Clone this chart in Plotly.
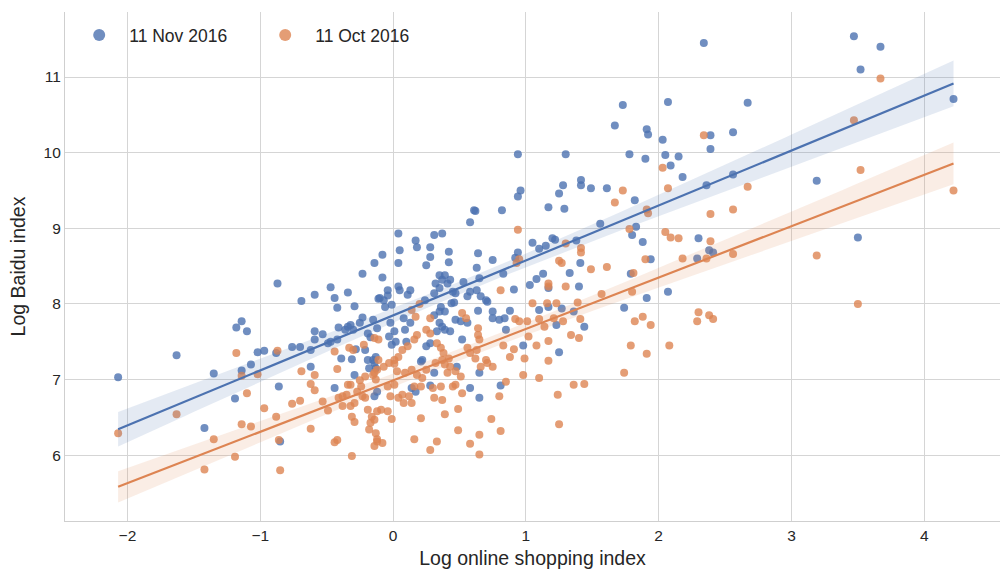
import numpy as np
import plotly.graph_objects as go

nov_x = [2.07, 1.73, 1.67, 1.91, 1.92, 2.03, 0.94, 1.30, 1.78, 2.05, 2.15, 1.90, 2.09, 2.18, 1.415, 1.415, 1.28, 1.49, 1.61, 0.96,
         0.94, 1.25, 1.82, 1.17, 1.29, 0.61, 0.62, 0.82, 0.58, 1.56, 1.83, 1.80, 1.88, 1.94, 0.04, 0.17, 0.18, 0.31, 0.37, 0.28,
         0.28, 0.42, 0.42, 0.05, 0.04, -0.08, -0.14, 0.25, 0.64, 0.63, 0.75, 0.94, 0.92, 1.05, 1.10, 1.15, 1.20, 1.22, 1.38, 1.41,
         2.34, 3.47, 3.67, 3.52, 2.67, 4.22, 2.56, 2.39, 2.39, 2.36, 2.56, 3.19, 3.50, 2.30, 2.38, 2.41, 2.29,
         -2.07, -1.63, -1.35, -1.42, -1.18, -1.14, -1.10, -1.14, -1.07, -1.02, -0.97, -1.19, -0.87, -0.86, -0.85, -0.88, -0.76, -0.70,
         -0.69, -0.59, -0.62, -0.62, -0.59, -0.59, -0.53, -0.49, -0.47, -0.47, -0.44, -0.42, -0.34, -0.29, -0.23, -0.11, -0.41, -0.36,
         -0.34, -0.32, -0.30, -0.42, -0.39, -0.31, -0.28, -0.25, -0.23, -0.21, -0.19, -0.17, -0.15, -0.12, -0.18, -0.19, -0.14, -0.29,
         -0.14, -0.44,
         -0.08, 0.04, 0.05, 0.11, 0.13, -0.04, -0.10, -0.07, -0.04, -0.06, -0.01, 0.24, 0.31, 0.35, 0.37, 0.41, 0.43, 0.39, 0.35, 0.32,
         0.45, 0.47, 0.44, 0.46, 0.53, 0.56, 0.58, 0.63, 0.65, 0.66, 0.70, 0.71, 0.83, 0.91, 1.03, 1.08, 1.13, 1.17, 1.33, 1.40,
         1.79, 2.07, 1.91, 1.74, 1.10, 1.17, 1.27, 1.36, 1.23, 1.44, 1.25, 0.98, 0.64, 0.75, 0.75, 0.80, 0.84, 0.88, 0.85, 0.56,
         0.52, 0.65, 0.48, 0.58, 0.65, 0.81, 0.31, 0.28, 0.21, 0.08, 0.13, 0.09, 0.10, -0.02, 0.01, -0.03, 0.02, -0.01, -0.13, -0.15,
         -0.13, -0.12, 0.14, 0.17, 0.22, 0.31, 0.35, 0.36, 0.39, 0.35, 0.37, 0.39, 0.43, 0.33, 0.47, 0.51, 0.28, 0.25]
nov_y = [10.67, 10.63, 10.36, 10.31, 10.24, 10.17, 9.98, 9.98, 9.98, 9.97, 9.95, 9.92, 9.83, 9.68, 9.64, 9.57, 9.57, 9.53, 9.53, 9.50,
         9.42, 9.46, 9.37, 9.28, 9.26, 9.24, 9.23, 9.24, 9.08, 9.06, 9.02, 8.91, 8.82, 8.59, 8.93, 8.84, 8.75, 8.91, 8.93, 8.75,
         8.62, 8.69, 8.55, 8.71, 8.54, 8.65, 8.54, 8.51, 8.67, 8.48, 8.58, 8.68, 8.61, 8.81, 8.73, 8.77, 8.87, 8.85, 8.84, 8.54,
         11.45, 11.54, 11.40, 11.10, 10.66, 10.71, 10.27, 10.23, 10.05, 9.57, 9.71, 9.63, 8.88, 8.87, 8.71, 8.68, 8.60,
         7.03, 7.32, 7.08, 6.36, 7.69, 7.77, 7.64, 7.12, 7.20, 7.36, 7.38, 6.75, 8.27, 6.91, 6.18, 7.35, 7.43, 7.43,
         8.04, 8.12, 7.17, 7.39, 7.53, 7.64, 7.60, 7.48, 7.50, 8.22, 8.08, 7.95, 8.15, 7.97, 8.40, 8.07, 7.69, 7.66,
         7.70, 7.72, 7.66, 7.53, 7.28, 7.27, 7.40, 7.75, 7.82, 7.39, 7.61, 7.56, 7.79, 7.68, 7.15, 7.26, 7.22, 7.06,
         6.78, 6.89,
         8.35, 8.23, 8.18, 8.12, 8.18, 8.18, 8.08, 8.05, 8.11, 7.96, 7.99, 8.05, 8.14, 8.21, 8.32, 8.27, 8.32, 8.38, 8.38, 8.27,
         8.16, 8.14, 8.01, 8.02, 8.29, 8.10, 8.16, 8.18, 8.34, 8.10, 8.05, 8.03, 8.40, 8.19, 8.25, 8.33, 8.40, 8.21, 8.41, 8.23,
         8.40, 8.16, 8.08, 7.95, 7.92, 7.96, 7.94, 7.90, 7.72, 7.70, 7.36, 7.45, 7.91, 7.90, 7.81, 7.79, 7.81, 7.91, 7.66, 7.75,
         7.53, 7.09, 7.17, 6.89, 6.76, 6.92, 7.09, 6.92, 7.24, 7.81, 7.75, 7.66, 7.50, 7.75, 7.64, 7.57, 7.50, 7.46, 7.30, 7.26,
         7.15, 6.84, 6.89, 6.84, 7.26, 7.85, 7.90, 7.96, 7.90, 7.75, 7.70, 7.66, 7.64, 7.64, 7.79, 7.77, 7.48, 7.44]

oct_x = [2.03, 2.07, 1.73, 1.67, 1.91, 1.92, 0.94, 1.78, 2.05, 2.09, 2.15, 2.18, 1.30, 1.415, 1.415, 0.95, 1.25, 1.27, 1.61, 1.49, 1.90,
         3.67, 2.34, 3.47, 3.52, 2.67, 4.22, 2.39, 2.56, 2.39, 2.36, 2.56, 3.19,
         2.30, 2.29, 2.38, 2.41, 3.50,
         -2.07, -1.63, -1.42, -1.35, -1.19, -1.18, -1.14, -1.07, -1.14, -1.10, -1.02, -0.97, -0.88, -0.87, -0.85, -0.76, -0.70, -0.69,
         -0.62, -0.62, -0.59, -0.59, -0.53, -0.49, -0.44, -0.42, -0.44, -0.42, -0.41, -0.38, -0.35, -0.31, -0.38, -0.32, -0.29, -0.31,
         -0.29, -0.33, -0.30, -0.34, -0.32, -0.27, -0.24, -0.25, -0.21, -0.23, -0.21, -0.19, -0.16, -0.14, -0.18, -0.17, -0.14, -0.12,
         -0.22, -0.14, -0.11, -0.15, -0.13, -0.12, -0.11, -0.86,
         0.81, 1.17, 1.17, 1.30, 0.93, 1.81, 1.80, 1.57, 1.05, 1.16, 1.23, 1.39, 0.92, 0.95, 1.01, 1.10, 1.14, 1.21, 1.28, 1.41,
         1.82, 1.88, 1.94, 1.34, 1.40, 1.02, 1.17, 0.83, 0.91, 0.88, 0.99, 1.08, 1.17, 1.79, 1.91, 2.08, 1.74, 0.98, 1.10, 1.36,
         1.44, 1.24, 1.25, 0.85, 0.80, 0.74, 0.81, 0.65, 0.65, 0.58, 0.49, 0.49, 0.52, 0.39, 0.33, 0.28, 0.21, 0.16, 0.37, 0.31,
         0.30, 0.36, 0.45, 0.07, 0.12, 0.14, 0.08, 0.04, -0.02, -0.04, 0.01, -0.01, -0.04, -0.09, -0.12, -0.13, -0.12, -0.08, 0.16, 0.21,
         0.09, 0.14, 0.18, 0.25, 0.22, -0.07, -0.03, 0.01, 0.03, -0.14, 0.33, 0.36, 0.38, 0.42, 0.43, 0.41, 0.37, 0.32, 0.39, 0.28,
         0.25, 0.18, 0.16, 0.11, 0.07, 0.04, 0.01, 0.28, 0.17, 0.14, 0.52, 0.55, 0.64, 0.64, 0.65, 0.56, 0.58, 0.63, 0.62, 0.70,
         0.71, 0.75, 0.66, 0.47, 0.51, 0.47, 0.20]
oct_y = [9.80, 9.53, 9.50, 9.34, 9.25, 9.20, 8.98, 8.99, 8.95, 8.88, 8.87, 8.60, 8.80, 8.74, 8.68, 8.59, 8.57, 8.54, 8.49, 8.46, 8.59,
         10.98, 10.23, 10.43, 9.77, 9.55, 9.50, 9.19, 9.25, 8.83, 8.60, 8.66, 8.64,
         7.89, 7.77, 7.85, 7.80, 8.00,
         6.29, 6.54, 5.81, 6.21, 5.98, 7.35, 6.41, 6.38, 7.05, 6.82, 7.07, 6.62, 6.51, 7.38, 5.80, 6.68, 6.72, 7.11,
         6.35, 6.94, 6.86, 7.06, 6.71, 6.59, 6.17, 6.20, 7.37, 7.14, 6.76, 6.78, 6.80, 5.99, 6.65, 6.65, 6.69, 6.51,
         6.44, 7.42, 7.39, 6.93, 6.93, 6.84, 6.91, 6.99, 7.04, 6.78, 6.76, 6.60, 6.51, 6.47, 6.34, 6.43, 6.12, 6.18,
         7.46, 7.55, 7.53, 7.06, 7.00, 7.13, 7.26, 6.20,
         8.18, 8.27, 8.23, 8.23, 8.54, 8.41, 8.16, 8.13, 8.01, 8.01, 8.01, 8.02, 7.80, 7.77, 7.77, 7.80, 7.70, 7.81, 7.77, 7.80,
         7.77, 7.83, 7.72, 7.59, 7.55, 7.57, 7.51, 7.45, 7.40, 7.30, 7.28, 7.45, 7.25, 7.45, 7.34, 7.45, 7.09, 7.06, 7.02, 6.93,
         6.94, 6.80, 6.41, 6.97, 6.78, 6.48, 6.32, 6.27, 6.01, 6.15, 6.61, 6.33, 6.82, 6.54, 6.18, 6.07, 6.49, 6.21, 6.73, 6.76,
         6.89, 6.91, 6.91, 6.80, 6.78, 6.69, 6.69, 6.76, 6.78, 6.91, 6.93, 6.48, 6.58, 6.60, 6.58, 6.29, 6.21, 6.16, 6.91, 6.91,
         7.09, 7.13, 7.06, 7.13, 7.02, 7.17, 7.22, 7.21, 7.11, 7.09, 7.48, 7.42, 7.35, 7.28, 7.17, 7.09, 7.26, 7.22, 7.20, 7.61,
         7.66, 7.59, 7.53, 7.44, 7.39, 7.30, 7.26, 7.81, 7.83, 7.92, 7.88, 7.81, 7.68, 7.59, 7.53, 7.42, 7.35, 7.39, 7.28, 7.26,
         7.22, 7.17, 7.17, 7.11, 7.04, 6.93, 8.00]

series = [
    ("11 Nov 2016", nov_x, nov_y, "#4c72b0", "rgba(76,114,176,0.15)"),
    ("11 Oct 2016", oct_x, oct_y, "#dd8452", "rgba(221,132,82,0.15)"),
]

fig = go.Figure()


def fit(xs, ys):
    x = np.asarray(xs, float)
    y = np.asarray(ys, float)
    n = len(x)
    b, a = np.polyfit(x, y, 1)
    grid = np.linspace(x.min(), x.max(), 100)
    pred = a + b * grid
    resid = y - (a + b * x)
    s = np.sqrt(np.sum(resid ** 2) / (n - 2))
    sxx = np.sum((x - x.mean()) ** 2)
    se = s * np.sqrt(1.0 / n + (grid - x.mean()) ** 2 / sxx)
    return grid, pred, pred - 1.96 * se, pred + 1.96 * se


FONT = "Liberation Sans, Arial, sans-serif"

for name, xs, ys, col, band in series:
    fig.add_trace(go.Scatter(
        x=xs, y=ys, mode="markers", name=name,
        marker=dict(color=col, size=8, opacity=0.8, line=dict(width=0)),
        showlegend=True,
    ))

for name, xs, ys, col, band in series:
    g, p, lo, hi = fit(xs, ys)
    fig.add_trace(go.Scatter(x=np.concatenate([g, g[::-1]]), y=np.concatenate([hi, lo[::-1]]),
                             fill="toself", fillcolor=band, line=dict(width=0),
                             mode="lines", hoverinfo="skip", showlegend=False))
    fig.add_trace(go.Scatter(x=g, y=p, mode="lines", line=dict(color=col, width=2.2),
                             showlegend=False, hoverinfo="skip"))

axis_common = dict(
    showgrid=True, gridcolor="#d5d5d5", gridwidth=1,
    zeroline=False, showline=True, linecolor="#cfcfcf", linewidth=1.2,
    ticks="", tickfont=dict(family=FONT, size=15.5, color="#262626"),
    title_font=dict(family=FONT, size=19.5, color="#262626"),
)

fig.update_layout(
    width=1001, height=573,
    margin=dict(l=65, r=1, t=12, b=52),
    paper_bgcolor="white", plot_bgcolor="white",
    font=dict(family=FONT, color="#262626"),
    legend=dict(orientation="h", x=0.0045, y=0.99, xanchor="left", yanchor="top",
                bgcolor="rgba(0,0,0,0)", font=dict(size=17.5, color="#262626"),
                itemwidth=50, entrywidth=121, itemsizing="constant"),
    xaxis=dict(range=[-2.47, 4.57], tickvals=[-2, -1, 0, 1, 2, 3, 4],
               ticktext=["\u22122", "\u22121", "0", "1", "2", "3", "4"],
               title=dict(text="Log online shopping index", standoff=8), **axis_common),
    yaxis=dict(range=[5.13, 11.86], tickvals=[6, 7, 8, 9, 10, 11],
               title=dict(text="Log Baidu index", standoff=12), **axis_common),
)

fig.write_html("out.html")
